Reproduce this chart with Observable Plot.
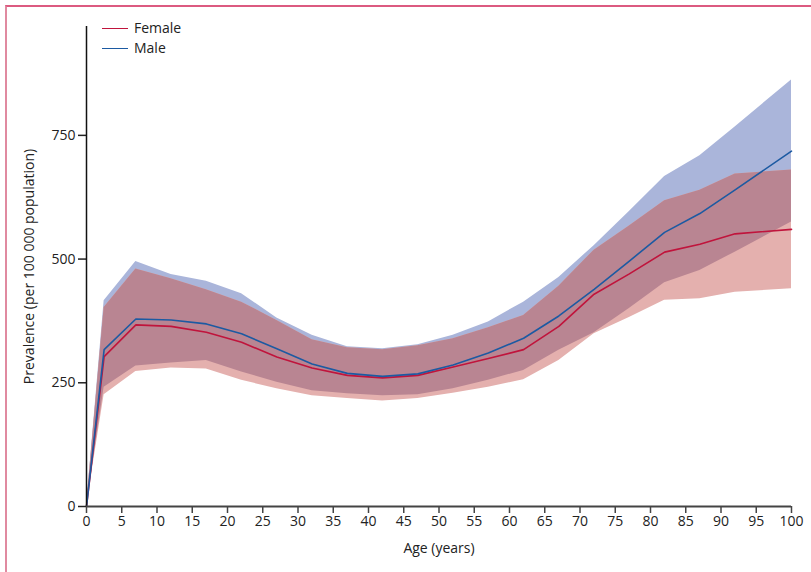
<!DOCTYPE html>
<html>
<head>
<meta charset="utf-8">
<script src="https://cdn.jsdelivr.net/npm/d3@7"></script>
<script src="https://cdn.jsdelivr.net/npm/@observablehq/plot@0.6"></script>
<style>
  html, body { margin: 0; padding: 0; background: #fff; }
  #wrap { position: relative; width: 811px; height: 572px; overflow: hidden; font-family: "Open Sans", sans-serif; }
  #frame { position: absolute; left: 5px; top: 5px; right: -10px; bottom: -10px;
           border-left: 2px solid #e08aa0; border-top: 2px solid #dc5a80; }
  #chart { position: absolute; left: 0; top: 0; }
  #legend { position: absolute; left: 102px; top: 18px; font-size: 14px; color: #222; line-height: 20px; }
  #legend .item { display: flex; align-items: center; }
  #legend .sw { width: 26px; height: 0; border-top: 1.6px solid; margin-right: 6px; }
</style>
</head>
<body>
<div id="wrap">
  <div id="frame"></div>
  <div id="chart"></div>
  <div id="legend"></div>
</div>
<script>
const ages = [0, 2.5, 7, 12, 17, 22, 27, 32, 37, 42, 47, 52, 57, 62, 67, 72, 77, 82, 87, 92, 100];
const femaleMean  = [0, 303, 367, 364, 352, 332, 302, 280, 265, 260, 265, 282, 299, 317, 364, 429, 470, 514, 530, 551, 560];
const femaleLower = [0, 226, 273, 280, 278, 255, 238, 224, 218, 213, 218, 229, 241, 256, 295, 349, 382, 417, 420, 433, 440];
const femaleUpper = [0, 402, 480, 460, 438, 413, 376, 337, 321, 317, 325, 339, 361, 386, 445, 518, 567, 618, 639, 672, 680];
const maleMean    = [0, 317, 379, 377, 369, 349, 319, 288, 269, 263, 268, 286, 310, 340, 385, 439, 496, 554, 592, 640, 718];
const maleLower   = [0, 241, 284, 290, 295, 272, 251, 234, 228, 224, 226, 238, 255, 275, 316, 351, 400, 452, 477, 514, 575];
const maleUpper   = [0, 416, 495, 469, 455, 430, 381, 346, 323, 319, 327, 346, 373, 413, 463, 527, 596, 667, 709, 767, 862];

const xTicks = d3.range(0, 101, 5);
const yTicks = [0, 250, 500, 750];
const seriesNames = ["Female", "Male"];
const lineColors = {Female: "#c0143c", Male: "#1c5aa2"};

const rows = ages.map((a, i) => ({
  age: a,
  fMean: femaleMean[i], fLo: femaleLower[i], fHi: femaleUpper[i],
  mMean: maleMean[i], mLo: maleLower[i], mHi: maleUpper[i],
  oLo: Math.max(femaleLower[i], maleLower[i]),
  oHi: Math.min(femaleUpper[i], maleUpper[i])
}));

const chart = Plot.plot({
  width: 811,
  height: 572,
  marginLeft: 86,
  marginRight: 20,
  marginTop: 26,
  marginBottom: 66,
  style: {fontFamily: "'Open Sans', sans-serif", fontSize: "14px", color: "#222", background: "transparent"},
  x: {domain: [0, 100]},
  y: {domain: [0, 970]},
  marks: [
    Plot.areaY(rows, {x: "age", y1: "mLo", y2: "mHi", fill: "#aab5da"}),
    Plot.areaY(rows, {x: "age", y1: "fLo", y2: "fHi", fill: "#e4b0ae"}),
    Plot.areaY(rows, {x: "age", y1: "oLo", y2: "oHi", fill: "#b98592"}),
    Plot.lineY(rows, {x: "age", y: "fMean", stroke: lineColors.Female, strokeWidth: 1.6}),
    Plot.lineY(rows, {x: "age", y: "mMean", stroke: lineColors.Male, strokeWidth: 1.6}),
    Plot.axisX({ticks: xTicks, tickSize: 7, tickPadding: 3, tickFormat: d => String(d), stroke: "#444", strokeWidth: 1.5,
                label: "Age (years)", labelAnchor: "center", labelOffset: 46, labelArrow: "none"}),
    Plot.axisY({ticks: yTicks, tickSize: 8, tickPadding: 3, tickFormat: d => String(d), stroke: "#222", strokeWidth: 1.5,
                label: "Prevalence (per 100 000 population)", labelAnchor: "center", labelOffset: 62, labelArrow: "none"}),
    Plot.ruleX([0], {stroke: "#111", strokeWidth: 1.5}),
    Plot.ruleY([0], {stroke: "#444", strokeWidth: 2})
  ]
});
document.getElementById("chart").appendChild(chart);

const legend = document.getElementById("legend");
seriesNames.forEach(name => {
  const item = document.createElement("div");
  item.className = "item";
  const sw = document.createElement("span");
  sw.className = "sw";
  sw.style.borderTopColor = lineColors[name];
  item.appendChild(sw);
  item.appendChild(document.createTextNode(name));
  legend.appendChild(item);
});
</script>
</body>
</html>
